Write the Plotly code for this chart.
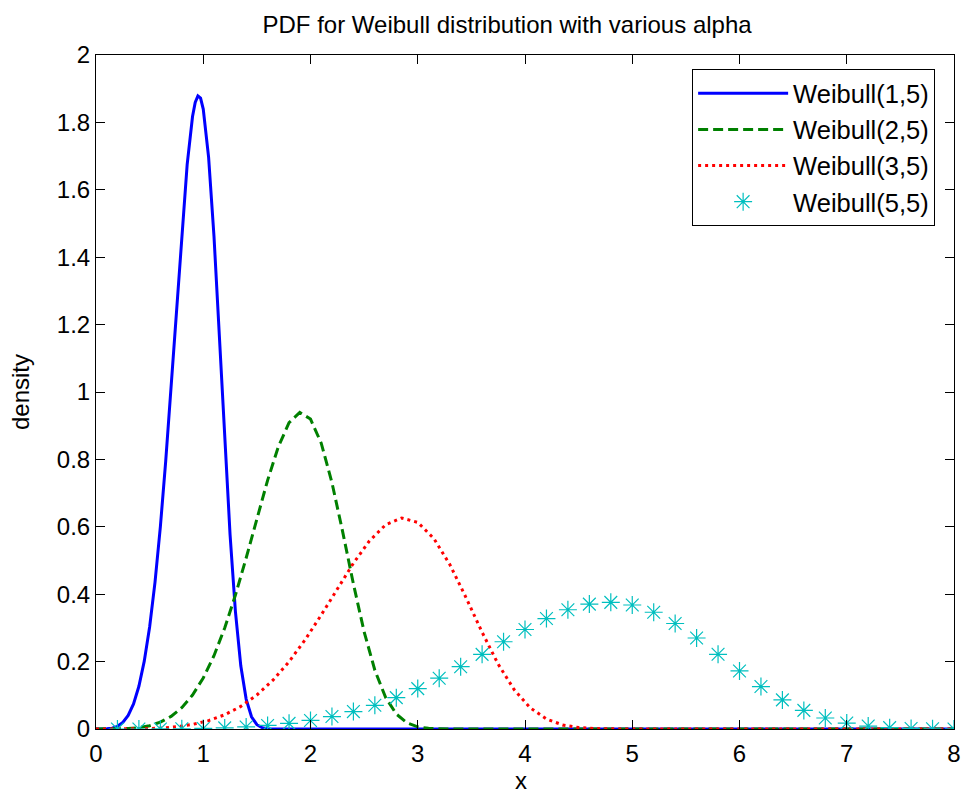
import plotly.graph_objects as go

# Weibull(scale, shape=5) densities
blue_x = [0.0, 0.05, 0.1, 0.15, 0.2, 0.25, 0.3, 0.35, 0.4, 0.45, 0.5, 0.55, 0.6,
          0.65, 0.7, 0.75, 0.8, 0.85, 0.9, 0.925, 0.95, 0.975, 1.0, 1.05, 1.1, 1.15,
          1.2, 1.25, 1.3, 1.35, 1.4, 1.45, 1.5, 1.55, 1.6, 1.65, 1.7, 8.0]
blue_y = [0.0, 0.0, 0.0005, 0.0025, 0.0080, 0.0195, 0.0404, 0.0746, 0.1267, 0.2013,
          0.3029, 0.4351, 0.5995, 0.7948, 1.0148, 1.2478, 1.4758, 1.6748, 1.8176,
          1.8594, 1.8785, 1.8720, 1.8394, 1.6961, 1.4624, 1.1702, 0.8612, 0.5770,
          0.3485, 0.1875, 0.0887, 0.0364, 0.0128, 0.0038, 0.0009, 0.0002, 0.0, 0.0]

green_x = [0.0, 0.1, 0.2, 0.3, 0.4, 0.5, 0.6, 0.7, 0.8, 0.9, 1.0, 1.1, 1.2, 1.3,
           1.4, 1.5, 1.6, 1.7, 1.8, 1.9, 2.0, 2.1, 2.2, 2.3, 2.4, 2.5, 2.6, 2.7,
           2.8, 2.9, 3.0, 3.1, 3.2, 3.3, 3.4, 8.0]
green_y = [0.0, 0.0, 0.0003, 0.0013, 0.0040, 0.0098, 0.0202, 0.0373, 0.0634, 0.1007,
           0.1515, 0.2176, 0.2998, 0.3974, 0.5074, 0.6239, 0.7379, 0.8374, 0.9088,
           0.9393, 0.9197, 0.8481, 0.7312, 0.5851, 0.4306, 0.2885, 0.1743, 0.0938,
           0.0444, 0.0182, 0.0064, 0.0019, 0.0005, 0.0001, 0.0, 0.0]

red_x = [0.0, 0.15, 0.3, 0.45, 0.6, 0.75, 0.9, 1.05, 1.2, 1.35, 1.5, 1.65, 1.8,
         1.95, 2.1, 2.25, 2.4, 2.55, 2.7, 2.85, 3.0, 3.15, 3.3, 3.45, 3.6, 3.75,
         3.9, 4.05, 4.2, 4.35, 4.5, 4.65, 4.8, 4.95, 8.0]
red_y = [0.0, 0.0, 0.0002, 0.0008, 0.0027, 0.0065, 0.0135, 0.0249, 0.0422, 0.0671,
         0.1010, 0.1450, 0.1998, 0.2649, 0.3383, 0.4159, 0.4919, 0.5583, 0.6059,
         0.6262, 0.6131, 0.5654, 0.4875, 0.3901, 0.2871, 0.1923, 0.1162, 0.0625,
         0.0296, 0.0121, 0.0043, 0.0013, 0.0003, 0.0, 0.0]

cyan_x = [0.2, 0.4, 0.6, 0.8, 1.0, 1.2, 1.4, 1.6, 1.8, 2.0, 2.2, 2.4, 2.6, 2.8,
          3.0, 3.2, 3.4, 3.6, 3.8, 4.0, 4.2, 4.4, 4.6, 4.8, 5.0, 5.2, 5.4, 5.6,
          5.8, 6.0, 6.2, 6.4, 6.6, 6.8, 7.0, 7.2, 7.4, 7.6, 7.8, 8.0]
cyan_y = [0.0, 0.0, 0.0002, 0.0007, 0.0016, 0.0033, 0.0061, 0.0105, 0.0167, 0.0253,
          0.0369, 0.0517, 0.0704, 0.0931, 0.1199, 0.1507, 0.1849, 0.2215, 0.2589,
          0.2952, 0.3277, 0.3538, 0.3706, 0.3758, 0.3679, 0.3465, 0.3130, 0.2701,
          0.2217, 0.1722, 0.1260, 0.0864, 0.0552, 0.0326, 0.0177, 0.0088, 0.0040,
          0.0016, 0.0006, 0.0002]

x_ticks = [0, 1, 2, 3, 4, 5, 6, 7, 8]
y_ticks = [0, 0.2, 0.4, 0.6, 0.8, 1.0, 1.2, 1.4, 1.6, 1.8, 2.0]
y_labels = ["0", "0.2", "0.4", "0.6", "0.8", "1", "1.2", "1.4", "1.6", "1.8", "2"]

FONT = "Liberation Sans, Arial, Helvetica, sans-serif"
CYAN = "#00bfbf"

fig = go.Figure()
fig.add_trace(go.Scatter(x=blue_x, y=blue_y, mode="lines", name="Weibull(1,5)",
                         legendgroup="a", line=dict(color="#0000ff", width=3)))
fig.add_trace(go.Scatter(x=green_x, y=green_y, mode="lines", name="Weibull(2,5)",
                         legendgroup="b",
                         line=dict(color="#008000", width=3, dash="10px,5px")))
fig.add_trace(go.Scatter(x=red_x, y=red_y, mode="lines", name="Weibull(3,5)",
                         legendgroup="c",
                         line=dict(color="#ff0000", width=3, dash="3px,4px")))
fig.add_trace(go.Scatter(x=cyan_x, y=cyan_y, mode="markers", name="Weibull(5,5)",
                         legendgroup="d",
                         marker=dict(symbol="asterisk-open", size=15, color=CYAN,
                                     line=dict(color=CYAN, width=1.2))))

axis_common = dict(showline=True, linecolor="black", linewidth=1, mirror="ticks",
                   ticks="inside", ticklen=9, tickcolor="black", showgrid=False,
                   zeroline=False, automargin=False,
                   tickfont=dict(size=24, color="black", family=FONT))

fig.update_layout(
    width=964, height=796,
    margin=dict(l=96, r=10, t=55, b=67),
    paper_bgcolor="white", plot_bgcolor="white",
    font=dict(family=FONT, color="black", size=24),
    title=dict(text="PDF for Weibull distribution with various alpha",
               x=0.526, xref="container", xanchor="center",
               y=1 - 25 / 796, yref="container", yanchor="middle",
               font=dict(size=24, color="black", family=FONT)),
    xaxis=dict(range=[0, 8], tickvals=x_ticks, ticktext=[str(v) for v in x_ticks],
               ticklabelstandoff=3, **axis_common),
    yaxis=dict(range=[0, 2], tickvals=y_ticks, ticktext=y_labels,
               title=dict(text="density", standoff=20, font=dict(size=24)), **axis_common),
    legend=dict(x=0.978, y=0.979, xanchor="right", yanchor="top",
                bgcolor="white", bordercolor="black", borderwidth=1,
                font=dict(size=25.5, color="black", family=FONT),
                itemwidth=90, tracegroupgap=0),
    showlegend=True,
)

# x-axis label placed below the tick labels
fig.add_annotation(text="x", xref="paper", yref="paper", x=0.495, y=-0.077,
                   xanchor="center", yanchor="middle", showarrow=False,
                   font=dict(size=24, color="black", family=FONT))

fig.write_html("out.html")
